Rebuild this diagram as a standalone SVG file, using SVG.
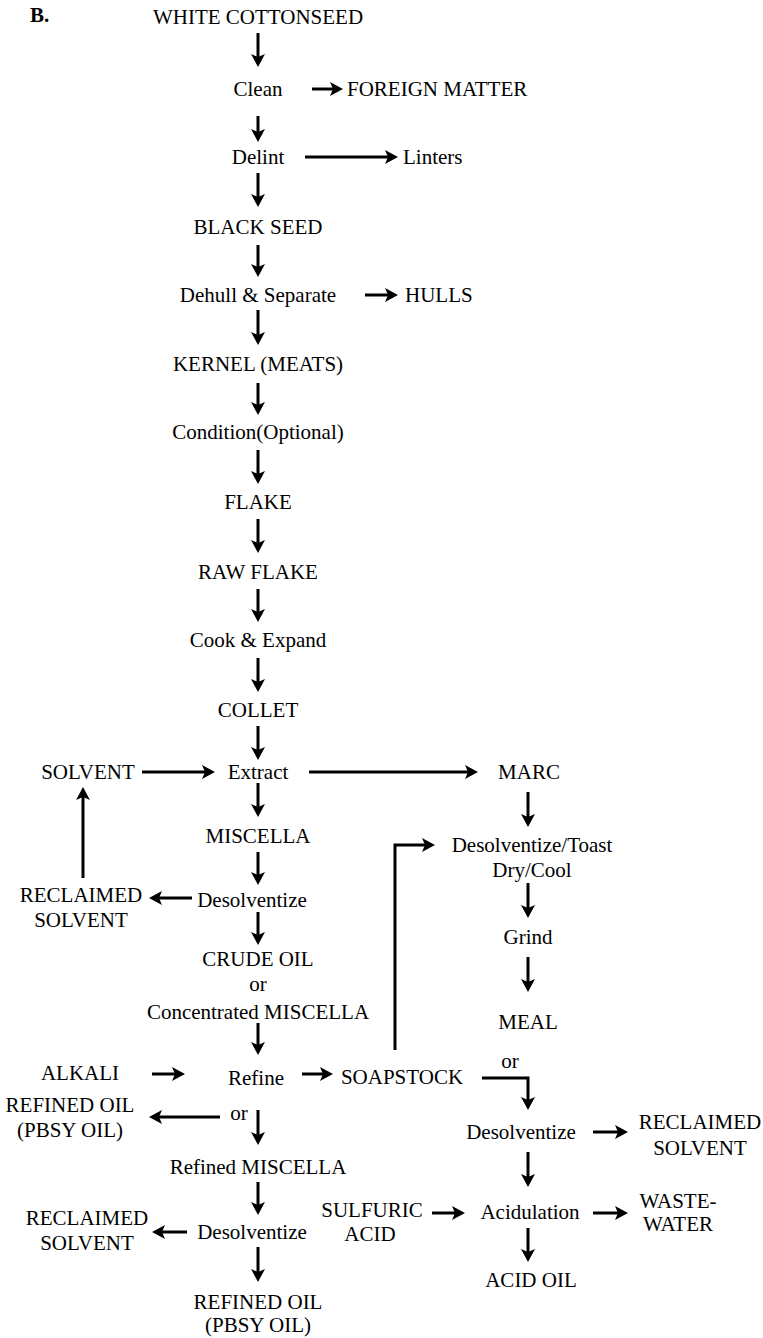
<svg xmlns="http://www.w3.org/2000/svg" width="763" height="1338" viewBox="0 0 763 1338">
  <style>
    text { font-family: "Liberation Serif", "Times New Roman", serif; font-size: 21px; fill: #000; text-anchor: middle; }
    .start { text-anchor: start; }
    .bold { font-weight: bold; }
    #connectors line, #connectors path { stroke: #000; stroke-width: 3; fill: none; marker-end: url(#ah); }
  </style>
  <defs>
    <marker id="ah" viewBox="0 0 14 14" refX="5" refY="7" markerWidth="14" markerHeight="14" markerUnits="userSpaceOnUse" orient="auto">
      <path d="M0,0 L13,7 L0,14 L3,7 z" fill="#000"/>
    </marker>
  </defs>
  <rect width="763" height="1338" fill="#fff"/>

  <text class="start bold" x="30" y="22">B.</text>

  <!-- main processing column -->
  <g id="white-cottonseed"><text x="258" y="24">WHITE COTTONSEED</text></g>
  <g id="clean"><text x="258" y="96">Clean</text></g>
  <g id="foreign-matter"><text class="start" x="347" y="96">FOREIGN MATTER</text></g>
  <g id="delint"><text x="258" y="164">Delint</text></g>
  <g id="linters"><text class="start" x="403" y="164">Linters</text></g>
  <g id="black-seed"><text x="258" y="234">BLACK SEED</text></g>
  <g id="dehull"><text x="258" y="302">Dehull &amp; Separate</text></g>
  <g id="hulls"><text class="start" x="405" y="302">HULLS</text></g>
  <g id="kernel"><text x="258" y="371">KERNEL (MEATS)</text></g>
  <g id="condition"><text x="258" y="439">Condition(Optional)</text></g>
  <g id="flake"><text x="258" y="509">FLAKE</text></g>
  <g id="raw-flake"><text x="258" y="579">RAW FLAKE</text></g>
  <g id="cook-expand"><text x="258" y="647">Cook &amp; Expand</text></g>
  <g id="collet"><text x="258" y="717">COLLET</text></g>
  <g id="solvent"><text x="88" y="779">SOLVENT</text></g>
  <g id="extract"><text x="258" y="779">Extract</text></g>
  <g id="marc"><text x="529" y="779">MARC</text></g>
  <g id="miscella"><text x="258" y="843">MISCELLA</text></g>
  <g id="desolventize-toast"><text x="532" y="852">Desolventize/Toast</text><text x="532" y="877">Dry/Cool</text></g>
  <g id="reclaimed-solvent-1"><text x="81" y="902">RECLAIMED</text><text x="81" y="927">SOLVENT</text></g>
  <g id="desolventize-1"><text x="252" y="907">Desolventize</text></g>
  <g id="grind"><text x="528" y="944">Grind</text></g>
  <g id="crude-oil"><text x="258" y="966">CRUDE OIL</text><text x="258" y="991">or</text><text x="258" y="1019">Concentrated MISCELLA</text></g>
  <g id="meal"><text x="528" y="1029">MEAL</text></g>
  <g id="alkali"><text x="80" y="1080">ALKALI</text></g>
  <g id="refine"><text x="256" y="1085">Refine</text></g>
  <g id="soapstock"><text x="402" y="1084">SOAPSTOCK</text></g>
  <g id="or-soapstock"><text x="510" y="1068">or</text></g>
  <g id="refined-oil-1"><text x="70" y="1112">REFINED OIL</text><text x="70" y="1137">(PBSY OIL)</text></g>
  <g id="or-refine"><text x="239" y="1120">or</text></g>
  <g id="desolventize-soap"><text x="521" y="1139">Desolventize</text></g>
  <g id="reclaimed-solvent-3"><text x="700" y="1129">RECLAIMED</text><text x="700" y="1155">SOLVENT</text></g>
  <g id="refined-miscella"><text x="258" y="1174">Refined MISCELLA</text></g>
  <g id="sulfuric-acid"><text x="372" y="1217">SULFURIC</text><text x="370" y="1241">ACID</text></g>
  <g id="acidulation"><text x="530" y="1219">Acidulation</text></g>
  <g id="wastewater"><text x="678" y="1208">WASTE-</text><text x="678" y="1231">WATER</text></g>
  <g id="reclaimed-solvent-2"><text x="87" y="1225">RECLAIMED</text><text x="87" y="1250">SOLVENT</text></g>
  <g id="desolventize-2"><text x="252" y="1239">Desolventize</text></g>
  <g id="acid-oil"><text x="531" y="1287">ACID OIL</text></g>
  <g id="refined-oil-2"><text x="258" y="1309">REFINED OIL</text><text x="258" y="1332">(PBSY OIL)</text></g>

  <!-- connectors: each line stops 8px short of its arrow tip -->
  <g id="connectors">
    <line x1="258" y1="33" x2="258" y2="59"/>
    <line x1="258" y1="116" x2="258" y2="134"/>
    <line x1="258" y1="173" x2="258" y2="199"/>
    <line x1="258" y1="245" x2="258" y2="269"/>
    <line x1="258" y1="310" x2="258" y2="337"/>
    <line x1="258" y1="383" x2="258" y2="407"/>
    <line x1="258" y1="450" x2="258" y2="476"/>
    <line x1="258" y1="519" x2="258" y2="545"/>
    <line x1="258" y1="589" x2="258" y2="614"/>
    <line x1="258" y1="658" x2="258" y2="684"/>
    <line x1="258" y1="726" x2="258" y2="752"/>
    <line x1="258" y1="783" x2="258" y2="809"/>
    <line x1="258" y1="852" x2="258" y2="877"/>
    <line x1="258" y1="912" x2="258" y2="937"/>
    <line x1="258" y1="1023" x2="258" y2="1047"/>
    <line x1="258" y1="1110" x2="258" y2="1137"/>
    <line x1="258" y1="1182" x2="258" y2="1207"/>
    <line x1="258" y1="1247" x2="258" y2="1274"/>

    <line x1="312" y1="89" x2="335" y2="89"/>
    <line x1="305" y1="157" x2="390" y2="157"/>
    <line x1="365" y1="295" x2="390" y2="295"/>
    <line x1="142" y1="772" x2="207" y2="772"/>
    <line x1="309" y1="772" x2="470" y2="772"/>
    <line x1="192" y1="898" x2="157" y2="898"/>
    <line x1="83" y1="878" x2="83" y2="795"/>
    <line x1="152" y1="1074" x2="177" y2="1074"/>
    <line x1="302" y1="1074" x2="325" y2="1074"/>
    <line x1="220" y1="1117" x2="157" y2="1117"/>
    <line x1="187" y1="1232" x2="160" y2="1232"/>

    <line x1="528" y1="792" x2="528" y2="819"/>
    <line x1="528" y1="883" x2="528" y2="910"/>
    <line x1="528" y1="957" x2="528" y2="984"/>
    <path d="M395,1050 V845 H427"/>
    <path d="M482,1078 H528 V1102"/>
    <line x1="593" y1="1132" x2="620" y2="1132"/>
    <line x1="528" y1="1152" x2="528" y2="1179"/>
    <line x1="432" y1="1213" x2="457" y2="1213"/>
    <line x1="593" y1="1213" x2="620" y2="1213"/>
    <line x1="528" y1="1228" x2="528" y2="1254"/>
  </g>
</svg>
